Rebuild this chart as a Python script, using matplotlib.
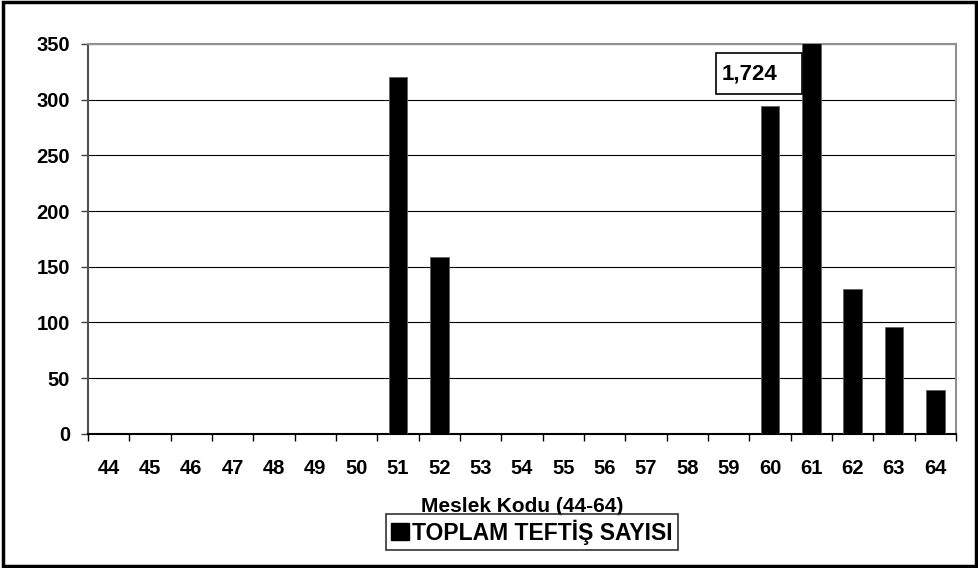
import matplotlib.pyplot as plt
from matplotlib.patches import Rectangle, Patch
import numpy as np

plt.rcParams['font.family'] = ['Liberation Sans', 'DejaVu Sans']
plt.rcParams['font.weight'] = 'bold'

codes = [str(c) for c in range(44, 65)]
counts = [0, 0, 0, 0, 0, 0, 0, 320, 159, 0, 0, 0, 0, 0, 0, 0, 294, 1724, 130, 96, 39]
series_name = "TOPLAM TEFTİŞ SAYISI"
x_title = "Meslek Kodu (44-64)"
y_max = 350

W, H = 979, 568
fig = plt.figure(figsize=(W / 100, H / 100), dpi=100)
ax = fig.add_axes([88 / W, 1 - 433.7 / H, (956 - 88) / W, (433.7 - 44) / H])

x = np.arange(len(codes))
bar_w = 0.45
ax.bar(x, counts, width=bar_w, color='black', edgecolor='#606060', linewidth=0.6, zorder=3)

ax.set_xlim(-0.5, len(codes) - 0.5)
ax.set_ylim(0, y_max)
ax.set_yticks(np.arange(0, y_max + 1, 50))
ax.yaxis.grid(True, color='black', linewidth=0.8, zorder=0)
ax.set_axisbelow(True)

# tick marks at category boundaries, labels at centers
ax.set_xticks(np.arange(-0.5, len(codes)), labels=[''] * (len(codes) + 1))
ax.set_xticks(x, labels=codes, minor=True)
ax.tick_params(axis='x', which='major', length=5, width=1, color='black', direction='out')
ax.tick_params(axis='x', which='minor', length=0, pad=18, labelsize=14.5)
ax.tick_params(axis='y', length=5, width=1, color='#404040', pad=8, labelsize=14.5)

ax.spines['left'].set_color('#505050')
ax.spines['left'].set_linewidth(1.5)
ax.spines['bottom'].set_color('black')
ax.spines['bottom'].set_linewidth(1.5)
for s in ['top', 'right']:
    ax.spines[s].set_color('#909090')
    ax.spines[s].set_linewidth(1.5)

# value box for the clipped bar
i_big = int(np.argmax(counts))
box_right = x[i_big] - bar_w / 2
box_w = 2.07
ax.add_patch(Rectangle((box_right - box_w, 305.5), box_w, 36, facecolor='white',
                       edgecolor='black', linewidth=1.2, zorder=4, clip_on=False))
ax.text(box_right - box_w + 0.12, 323.5, f"{counts[i_big]:,}", ha='left', va='center',
        fontsize=16, fontweight='bold', zorder=5)

fig.text(522 / W, 1 - 506 / H, x_title, ha='center', va='center', fontsize=15, fontweight='bold')

leg = fig.legend(handles=[Patch(facecolor='black', edgecolor='black', label=series_name)],
                 loc='center', bbox_to_anchor=(532 / W, 1 - 532 / H), fontsize=16.5,
                 frameon=True, fancybox=False, handlelength=0.75, handleheight=0.75,
                 handletextpad=0.15, borderpad=0.25, borderaxespad=0)
leg.get_frame().set_edgecolor('black')
leg.get_frame().set_linewidth(1.2)

# outer chart border
fig.patches.append(Rectangle((3 / W, 2 / H), (W - 6) / W, (H - 4) / H, transform=fig.transFigure,
                             facecolor='none', edgecolor='black', linewidth=2.5))

fig.savefig('out.png', dpi=100)
